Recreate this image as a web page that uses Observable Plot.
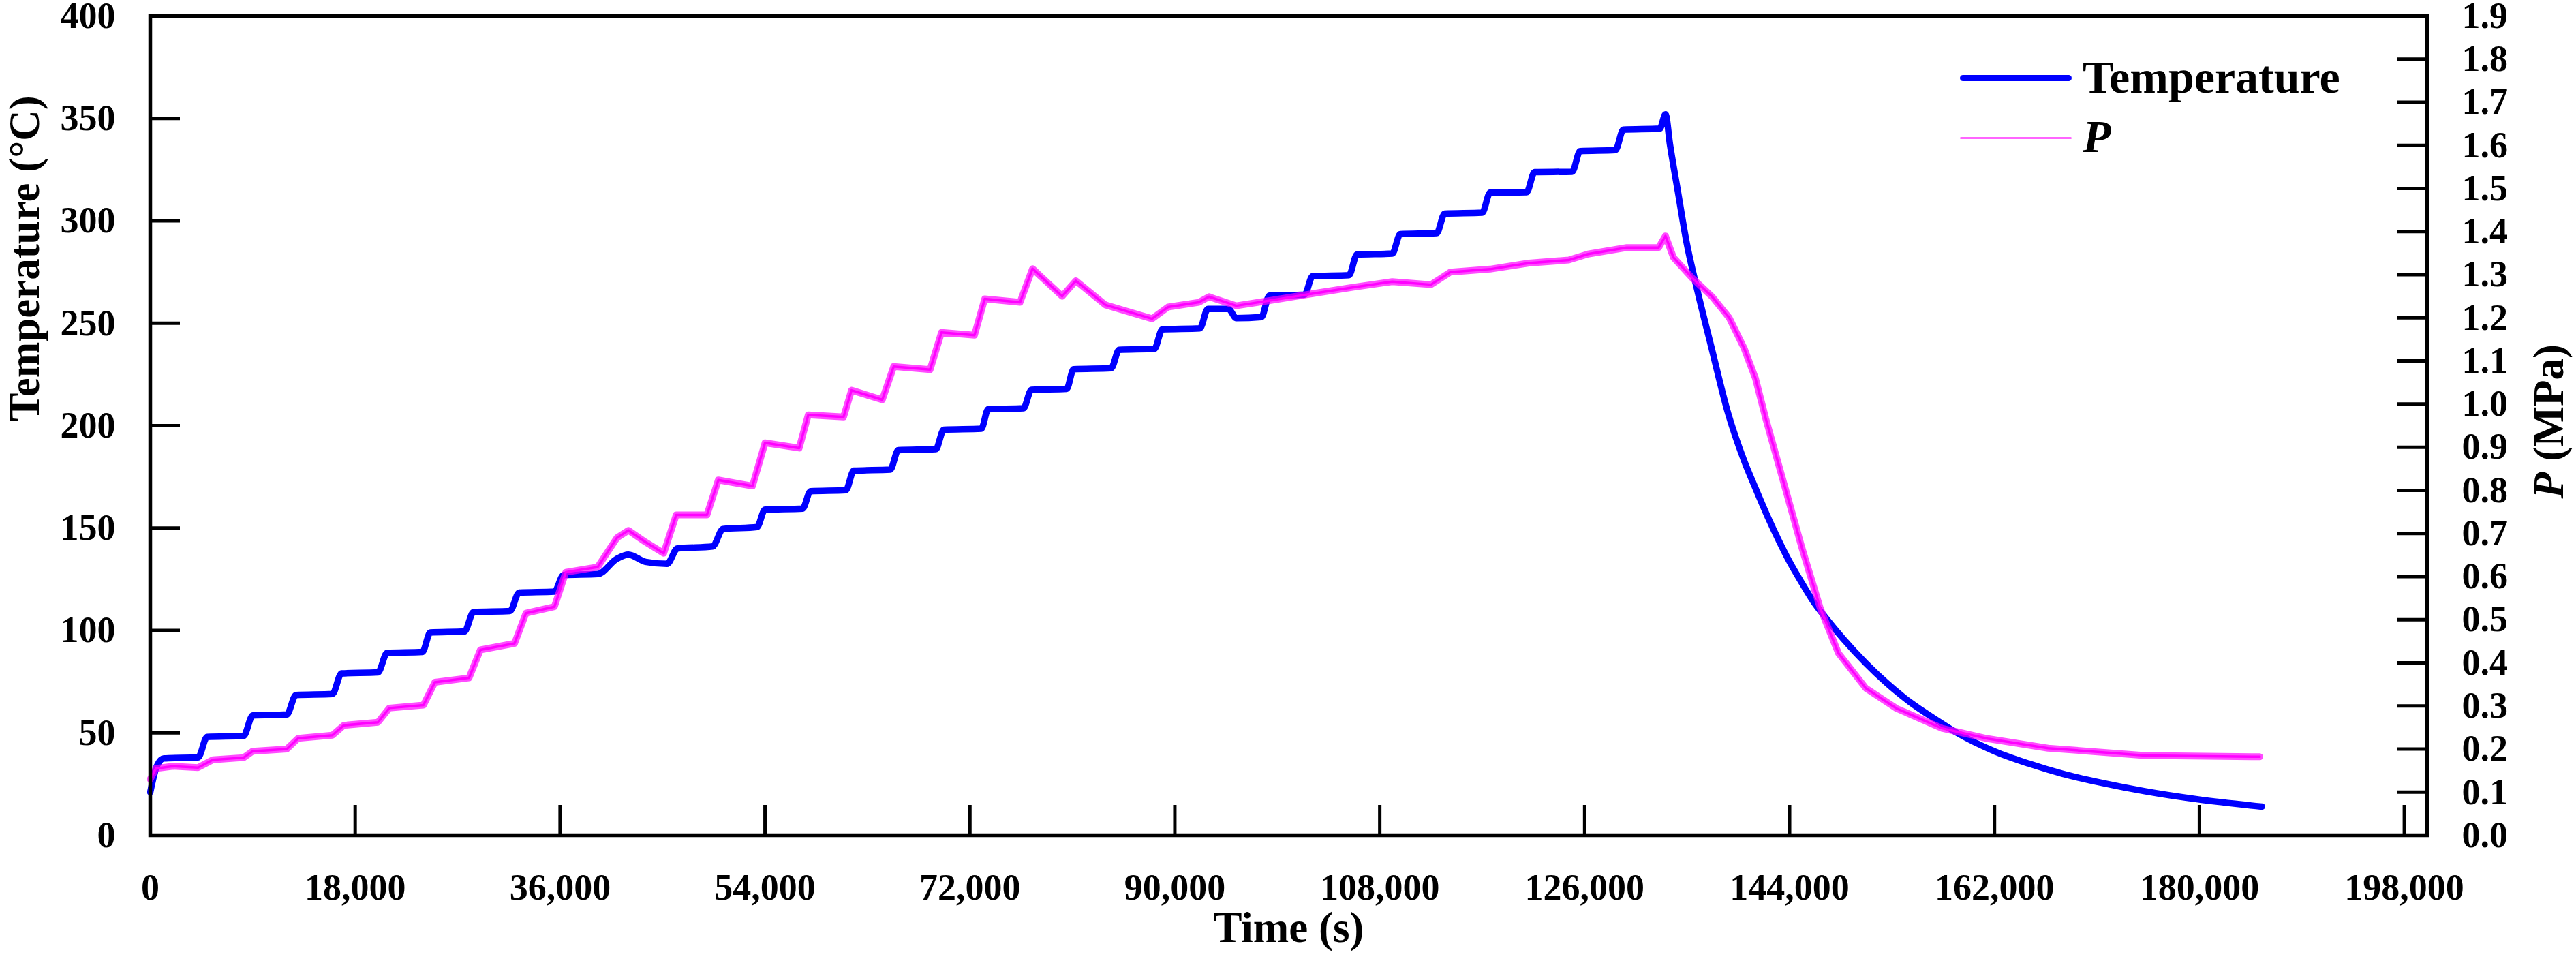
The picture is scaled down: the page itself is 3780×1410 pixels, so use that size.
<!DOCTYPE html>
<html>
<head>
<meta charset="utf-8">
<script src="https://cdn.jsdelivr.net/npm/d3@7"></script>
<script src="https://cdn.jsdelivr.net/npm/@observablehq/plot@0.6"></script>
<style>
  html, body { margin: 0; padding: 0; background: #ffffff; }
  #wrap { position: relative; width: 3780px; height: 1410px; }
  .leg { position: absolute; font-family: "Liberation Serif", "Times New Roman", serif; font-weight: bold; font-size: 68px; line-height: 68px; color: #000; white-space: nowrap; }
  .sw { position: absolute; }
</style>
</head>
<body>
<div id="wrap"></div>
<script>
// ---- data ----
const tempTime = [0, 600, 1200, 4200, 5000, 8200, 9000, 12000, 12800, 16000, 16800, 20000, 20800, 23900, 24600, 27600, 28400, 31600, 32400, 35500, 36300, 39300, 41000, 42000, 43500, 45400, 46300, 49400, 50300, 53300, 54000, 57300, 58000, 61100, 61800, 65000, 65700, 69000, 69700, 73000, 73600, 76700, 77400, 80500, 81100, 84400, 85100, 88200, 88900, 92200, 92900, 94700, 95400, 97600, 98300, 101400, 102100, 105300, 106000, 109100, 109800, 113000, 113700, 117000, 117700, 120900, 121600, 124900, 125600, 128700, 129400, 132600, 133100, 133500, 134200, 134900, 135900, 137100, 138600, 140000, 141000, 142000, 143000, 144000, 145100, 146100, 147200, 148700, 150700, 152500, 154700, 156700, 158700, 162000, 165000, 168000, 171500, 175200, 179900, 185500];
const tempValue = [21, 34, 37.5, 38, 48, 48.5, 58.5, 59, 68.5, 69, 79, 79.5, 89, 89.5, 99, 99.5, 109, 109.5, 118.5, 119, 127, 127.5, 135, 137, 133.5, 132.5, 140, 141, 149.5, 150.5, 159, 159.5, 168, 168.5, 178, 178.5, 188, 188.5, 198, 198.5, 208, 208.5, 217.5, 218, 227.5, 228, 237, 237.5, 247, 247.5, 257, 257, 252.5, 253, 263.5, 264, 273, 273.5, 283.5, 284, 293.5, 294, 303.5, 304, 313.8, 314, 323.8, 324, 334, 334.5, 344.5, 345, 352, 337, 314, 291, 266, 239, 206, 183, 169.5, 156.5, 144.5, 133.5, 123, 114, 106, 96, 84, 74.5, 64.5, 57, 50, 41, 35, 30, 25.5, 21.5, 17.5, 14];

const pTime = [0, 500, 2000, 4200, 5500, 8200, 9000, 12000, 13000, 16000, 17000, 20000, 21000, 24000, 25000, 28000, 29000, 32000, 33000, 35500, 36500, 39300, 41000, 42000, 43500, 45100, 46200, 48900, 49900, 52900, 54000, 57000, 57800, 60900, 61600, 64300, 65300, 68500, 69500, 72400, 73300, 76400, 77500, 80100, 81300, 83900, 88000, 89400, 92100, 93000, 95400, 98800, 102300, 105700, 109100, 112500, 114200, 117700, 121100, 124600, 126300, 129700, 132500, 133100, 133800, 135500, 137200, 138700, 140000, 141000, 141900, 143500, 145100, 146700, 148300, 150700, 153400, 157400, 161400, 166700, 175200, 185300];
const pValue = [0.13, 0.155, 0.16, 0.157, 0.175, 0.18, 0.195, 0.2, 0.225, 0.232, 0.255, 0.262, 0.295, 0.302, 0.355, 0.365, 0.43, 0.445, 0.515, 0.53, 0.61, 0.622, 0.69, 0.707, 0.68, 0.654, 0.743, 0.743, 0.824, 0.81, 0.91, 0.898, 0.975, 0.97, 1.032, 1.01, 1.087, 1.08, 1.166, 1.16, 1.244, 1.236, 1.314, 1.25, 1.286, 1.23, 1.198, 1.225, 1.236, 1.249, 1.228, 1.242, 1.257, 1.271, 1.284, 1.277, 1.306, 1.313, 1.327, 1.334, 1.348, 1.363, 1.363, 1.39, 1.34, 1.291, 1.249, 1.2, 1.13, 1.06, 0.967, 0.816, 0.665, 0.526, 0.422, 0.341, 0.294, 0.248, 0.224, 0.202, 0.185, 0.182];

const xTicks = [0, 18000, 36000, 54000, 72000, 90000, 108000, 126000, 144000, 162000, 180000, 198000];
const tempTicks = [0, 50, 100, 150, 200, 250, 300, 350, 400];
const pTicks = [0.0, 0.1, 0.2, 0.3, 0.4, 0.5, 0.6, 0.7, 0.8, 0.9, 1.0, 1.1, 1.2, 1.3, 1.4, 1.5, 1.6, 1.7, 1.8, 1.9];

const tempMax = 400, pMax = 1.9;
const toLeft = p => p * tempMax / pMax;   // map P (MPa) onto the temperature scale

const tempRows = tempTime.map((t, i) => ({t, v: tempValue[i]}));
const pRows = pTime.map((t, i) => ({t, v: toLeft(pValue[i])}));

const serif = "'Liberation Serif', 'Times New Roman', serif";
const TICK = -44;
const axisFont = {fontFamily: serif, fontWeight: "bold", fontSize: 54};

const chart = Plot.plot({
  width: 3780,
  height: 1410,
  marginLeft: 220,
  marginRight: 219,
  marginTop: 23,
  marginBottom: 185,
  style: {fontFamily: serif, fontWeight: "bold", fontSize: "54px", background: "#ffffff", color: "#000000"},
  x: {domain: [0, 200000]},
  y: {domain: [0, tempMax]},
  marks: [
    Plot.line(tempRows, {x: "t", y: "v", stroke: "#0000ff", strokeWidth: 9.5, curve: "monotone-x", strokeLinejoin: "round", strokeLinecap: "round"}),
    Plot.line(pRows, {x: "t", y: "v", stroke: "#ff00ff", strokeWidth: 10, strokeOpacity: 0.7, curve: "linear", strokeLinejoin: "round"}),
    Plot.line(pRows, {x: "t", y: "v", stroke: "#ff00ff", strokeWidth: 3.5, curve: "linear", strokeLinejoin: "round"}),
    Plot.frame({stroke: "#000000", strokeWidth: 5.5}),
    Plot.axisX(xTicks, {anchor: "bottom", tickSize: TICK, tickPadding: 100, strokeWidth: 5, tickFormat: d3.format(","), label: null, ...axisFont}),
    Plot.axisY(tempTicks, {anchor: "left", tickSize: TICK, tickPadding: 95, strokeWidth: 5, tickFormat: d => String(d), label: null, ...axisFont}),
    Plot.axisY(pTicks.map(toLeft), {anchor: "right", tickSize: TICK, tickPadding: 95, strokeWidth: 5, tickFormat: d => (d * pMax / tempMax).toFixed(1), label: null, ...axisFont}),
    Plot.text(["Temperature (°C)"], {frameAnchor: "left", dx: -184, dy: -6, rotate: -90, fontFamily: serif, fontSize: 63, fontWeight: "bold", fill: "#000"}),
    Plot.text(["Time (s)"], {frameAnchor: "bottom", dy: 156, fontFamily: serif, fontSize: 63, fontWeight: "bold", fill: "#000"}),
    Plot.text(["P"], {frameAnchor: "right", dx: 179, dy: 107, rotate: -90, textAnchor: "start", fontFamily: serif, fontSize: 63, fontWeight: "bold", fontStyle: "italic", fill: "#000"}),
    Plot.text(["(MPa)"], {frameAnchor: "right", dx: 179, dy: 52, rotate: -90, textAnchor: "start", fontFamily: serif, fontSize: 63, fontWeight: "bold", fill: "#000"})
  ]
});

const wrap = document.getElementById("wrap");
wrap.appendChild(chart);

// legend (HTML overlay, top right inside the frame)
const legendItems = [
  {label: "Temperature", color: "#0000ff", h: 9, y: 114, italic: false},
  {label: "P", color: "#ff66ff", h: 3, y: 202, italic: true}
];
const baselines = [136, 223];
legendItems.forEach((it, i) => {
  const sw = document.createElement("div");
  sw.className = "sw";
  sw.style.left = "2876px";
  sw.style.width = "164px";
  sw.style.top = (it.y - it.h / 2) + "px";
  sw.style.height = it.h + "px";
  sw.style.background = it.color;
  sw.style.borderRadius = (it.h / 2) + "px";
  wrap.appendChild(sw);
  const tx = document.createElement("div");
  tx.className = "leg";
  tx.textContent = it.label;
  tx.style.left = "3056px";
  tx.style.top = (baselines[i] - 57) + "px";
  if (it.italic) tx.style.fontStyle = "italic";
  wrap.appendChild(tx);
});
</script>
</body>
</html>
